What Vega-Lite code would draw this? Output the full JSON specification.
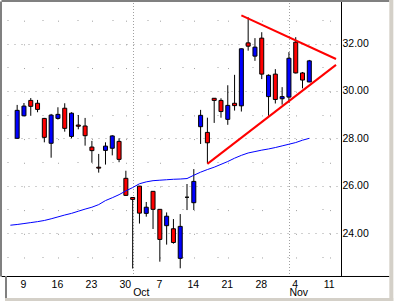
{
  "$schema": "https://vega.github.io/schema/vega-lite/v6.json",
  "width": 340,
  "height": 275,
  "autosize": {"type": "none"},
  "padding": {"left": 1, "top": 1, "right": 59, "bottom": 25},
  "background": "white",
  "config": {
    "view": {"stroke": null},
    "axis": {"labelFont": "Liberation Sans", "labelFontSize": 10.5, "labelColor": "black", "title": null}
  },
  "datasets": {
    "candles": [
      {"i": 0, "o": 28.0, "h": 29.41, "l": 27.98, "c": 29.18},
      {"i": 1, "o": 28.95, "h": 29.49, "l": 28.93, "c": 29.36},
      {"i": 2, "o": 29.6, "h": 29.7, "l": 28.95, "c": 29.35},
      {"i": 3, "o": 29.48, "h": 29.62, "l": 29.1, "c": 29.22},
      {"i": 4, "o": 28.84, "h": 28.86, "l": 27.83, "c": 28.04},
      {"i": 5, "o": 27.79, "h": 29.03, "l": 27.18, "c": 28.98},
      {"i": 6, "o": 28.84, "h": 29.31, "l": 28.79, "c": 29.01},
      {"i": 7, "o": 29.27, "h": 29.48, "l": 28.28, "c": 28.42},
      {"i": 8, "o": 28.08, "h": 29.1, "l": 28.0, "c": 29.06},
      {"i": 9, "o": 28.56, "h": 28.98, "l": 28.38, "c": 28.51},
      {"i": 10, "o": 28.52, "h": 28.86, "l": 27.69, "c": 28.11},
      {"i": 11, "o": 27.63, "h": 27.89, "l": 26.97, "c": 27.48},
      {"i": 12, "o": 26.78, "h": 27.34, "l": 26.55, "c": 26.74},
      {"i": 13, "o": 27.49, "h": 27.83, "l": 26.89, "c": 27.67},
      {"i": 14, "o": 27.58, "h": 28.13, "l": 27.28, "c": 28.1},
      {"i": 15, "o": 27.87, "h": 28.0, "l": 26.99, "c": 27.11},
      {"i": 16, "o": 26.31, "h": 26.63, "l": 25.57, "c": 25.59},
      {"i": 17, "o": 25.5, "h": 25.51, "l": 22.5, "c": 25.42},
      {"i": 18, "o": 25.98, "h": 25.99, "l": 24.4, "c": 24.84},
      {"i": 19, "o": 24.83, "h": 25.31, "l": 24.69, "c": 25.09},
      {"i": 20, "o": 25.76, "h": 25.77, "l": 24.17, "c": 25.0},
      {"i": 21, "o": 25.0, "h": 25.01, "l": 22.79, "c": 23.73},
      {"i": 22, "o": 24.31, "h": 24.87, "l": 23.51, "c": 24.71},
      {"i": 23, "o": 24.18, "h": 24.59, "l": 23.55, "c": 23.6},
      {"i": 24, "o": 22.93, "h": 24.8, "l": 22.51, "c": 24.28},
      {"i": 25, "o": 25.51, "h": 26.07, "l": 24.97, "c": 25.51},
      {"i": 26, "o": 25.28, "h": 26.7, "l": 24.97, "c": 26.18},
      {"i": 27, "o": 28.49, "h": 29.2, "l": 27.76, "c": 28.97},
      {"i": 28, "o": 28.25, "h": 28.87, "l": 26.94, "c": 27.81},
      {"i": 29, "o": 29.69, "h": 29.7, "l": 28.65, "c": 29.6},
      {"i": 30, "o": 29.6, "h": 29.69, "l": 28.87, "c": 29.13},
      {"i": 31, "o": 28.8, "h": 30.24, "l": 28.57, "c": 29.39},
      {"i": 32, "o": 29.48, "h": 30.68, "l": 29.17, "c": 29.38},
      {"i": 33, "o": 29.37, "h": 31.79, "l": 29.13, "c": 31.78},
      {"i": 34, "o": 32.03, "h": 33.11, "l": 31.7, "c": 31.89},
      {"i": 35, "o": 31.47, "h": 32.23, "l": 31.27, "c": 31.85},
      {"i": 36, "o": 32.23, "h": 32.48, "l": 30.5, "c": 30.71},
      {"i": 37, "o": 29.76, "h": 30.7, "l": 28.95, "c": 30.66},
      {"i": 38, "o": 30.71, "h": 30.92, "l": 29.47, "c": 29.64},
      {"i": 39, "o": 29.67, "h": 30.16, "l": 29.42, "c": 29.76},
      {"i": 40, "o": 29.74, "h": 31.64, "l": 29.51, "c": 31.38},
      {"i": 41, "o": 32.06, "h": 32.27, "l": 30.74, "c": 30.76},
      {"i": 42, "o": 30.76, "h": 30.8, "l": 30.11, "c": 30.46},
      {"i": 43, "o": 30.38, "h": 31.31, "l": 30.37, "c": 31.27}
    ],
    "ma": [
      {"i": -1, "v": 24.33}, {"i": 0, "v": 24.36}, {"i": 1, "v": 24.4}, {"i": 2, "v": 24.44},
      {"i": 3, "v": 24.48}, {"i": 4, "v": 24.53}, {"i": 5, "v": 24.6}, {"i": 6, "v": 24.68},
      {"i": 7, "v": 24.76}, {"i": 8, "v": 24.83}, {"i": 9, "v": 24.92}, {"i": 10, "v": 25.01},
      {"i": 11, "v": 25.09}, {"i": 12, "v": 25.2}, {"i": 13, "v": 25.37}, {"i": 14, "v": 25.49},
      {"i": 15, "v": 25.62}, {"i": 16, "v": 25.78}, {"i": 17, "v": 25.92}, {"i": 18, "v": 26.08},
      {"i": 19, "v": 26.16}, {"i": 20, "v": 26.21}, {"i": 21, "v": 26.23}, {"i": 22, "v": 26.25},
      {"i": 23, "v": 26.27}, {"i": 24, "v": 26.28}, {"i": 25, "v": 26.3}, {"i": 26, "v": 26.44},
      {"i": 27, "v": 26.57}, {"i": 28, "v": 26.68}, {"i": 29, "v": 26.78}, {"i": 30, "v": 26.9},
      {"i": 31, "v": 27.02}, {"i": 32, "v": 27.16}, {"i": 33, "v": 27.28}, {"i": 34, "v": 27.38},
      {"i": 35, "v": 27.44}, {"i": 36, "v": 27.5}, {"i": 37, "v": 27.55}, {"i": 38, "v": 27.61},
      {"i": 39, "v": 27.68}, {"i": 40, "v": 27.75}, {"i": 41, "v": 27.82}, {"i": 42, "v": 27.92},
      {"i": 43, "v": 28.0}
    ],
    "tri": [
      {"side": "upper", "i": 33, "v": 33.19},
      {"side": "upper", "i": 46.93, "v": 31.35},
      {"side": "lower", "i": 28, "v": 26.92},
      {"side": "lower", "i": 46.93, "v": 31.1}
    ]
  },
  "resolve": {"axis": {"x": "independent", "y": "independent"}},
  "layer": [
    {
      "data": {"name": "candles"},
      "mark": {"type": "rule", "color": "black", "strokeWidth": 1},
      "encoding": {
        "x": {
          "field": "i", "type": "quantitative",
          "scale": {"domain": [-1.6429, 46.9286], "nice": false, "zero": false},
          "axis": {
            "orient": "bottom",
            "values": [1, 6, 11, 16, 17, 21, 26, 31, 36, 40, 41, 46],
            "labelExpr": "datum.value == 1 ? '9' : datum.value == 6 ? '16' : datum.value == 11 ? '23' : datum.value == 16 ? '30' : datum.value == 17 ? 'Oct' : datum.value == 21 ? '7' : datum.value == 26 ? '14' : datum.value == 31 ? '21' : datum.value == 36 ? '28' : datum.value == 40 ? 'Nov' : datum.value == 41 ? '4' : '11'",
            "ticks": false,
            "domainColor": "black",
            "grid": true,
            "gridColor": "#a0a0a0",
            "gridDash": {"condition": {"test": "datum.value == 17 || datum.value == 40", "value": [1, 2]}, "value": [1, 22.68]},
            "gridDashOffset": 4.5,
            "labelBaseline": "top",
            "labelPadding": {"condition": {"test": "datum.value == 17 || datum.value == 40", "value": 11}, "value": 3},
            "labelAlign": {"condition": {"test": "datum.value == 17 || datum.value == 40", "value": "left"}, "value": "center"},
            "labelOffset": {"condition": {"test": "datum.value == 17 || datum.value == 40", "value": 0}, "value": -1},
            "labelOverlap": false,
            "labelFlush": false,
            "labelBound": false
          }
        },
        "y": {
          "field": "l", "type": "quantitative",
          "scale": {"domain": [22.185, 33.798], "nice": false, "zero": false},
          "axis": {
            "orient": "right",
            "values": [23, 24, 25, 26, 27, 28, 29, 30, 31, 32, 33],
            "labelExpr": "datum.value % 2 === 0 ? format(datum.value, '.2f') : ''",
            "ticks": false,
            "domainColor": "black",
            "grid": true,
            "gridColor": "#a0a0a0",
            "gridDash": {"condition": {"test": "datum.value % 2 === 0", "value": [1, 6]}, "value": [1, 34]},
            "gridDashOffset": 17,
            "labelPadding": 1,
            "labelAlign": "left",
            "labelOverlap": false,
            "labelFlush": false,
            "labelBound": false
          }
        },
        "y2": {"field": "h"}
      }
    },
    {
      "data": {"name": "candles"},
      "mark": {"type": "bar", "width": 4, "stroke": "black", "strokeWidth": 1},
      "encoding": {
        "x": {"field": "i", "type": "quantitative", "scale": {"domain": [-1.6429, 46.9286], "nice": false, "zero": false}, "axis": null},
        "y": {"field": "o", "type": "quantitative", "scale": {"domain": [22.185, 33.798], "nice": false, "zero": false}, "axis": null},
        "y2": {"field": "c"},
        "fill": {"condition": {"test": "datum.c > datum.o", "value": "#0000ff"}, "value": "#ff0000"}
      }
    },
    {
      "data": {"name": "ma"},
      "mark": {"type": "line", "color": "#0000ff", "strokeWidth": 1},
      "encoding": {
        "x": {
          "field": "i", "type": "quantitative",
          "scale": {"domain": [-1.6429, 46.9286], "nice": false, "zero": false},
          "axis": {"orient": "top", "domainColor": "#808080", "domainWidth": 2, "ticks": false, "labels": false, "grid": false, "offset": 0.5}
        },
        "y": {
          "field": "v", "type": "quantitative",
          "scale": {"domain": [22.185, 33.798], "nice": false, "zero": false},
          "axis": {"orient": "left", "domainColor": "#808080", "domainWidth": 2, "ticks": false, "labels": false, "grid": false, "offset": 0.5}
        }
      }
    },
    {
      "data": {"name": "tri"},
      "mark": {"type": "line", "color": "#ff0000", "strokeWidth": 2},
      "encoding": {
        "x": {"field": "i", "type": "quantitative", "scale": {"domain": [-1.6429, 46.9286], "nice": false, "zero": false}, "axis": null},
        "y": {"field": "v", "type": "quantitative", "scale": {"domain": [22.185, 33.798], "nice": false, "zero": false}, "axis": null},
        "detail": {"field": "side", "type": "nominal"}
      }
    },
    {
      "data": {"values": [{}]},
      "mark": {"type": "rule", "color": "black", "strokeWidth": 1},
      "encoding": {
        "x": {"datum": 46.9286, "type": "quantitative", "axis": null},
        "x2": {"datum": 54.79},
        "y": {"datum": 22.164, "type": "quantitative", "axis": null}
      }
    },
    {
      "data": {"values": [{}]},
      "mark": {"type": "rule", "color": "#808080", "strokeWidth": 2},
      "encoding": {
        "x": {"datum": 46.9286, "type": "quantitative", "axis": null},
        "x2": {"datum": 54.79},
        "y": {"datum": 33.798, "type": "quantitative", "axis": null}
      }
    },
    {
      "data": {"values": [{}]},
      "mark": {"type": "rule", "color": "#808080", "strokeWidth": 2},
      "encoding": {
        "x": {"datum": -1.6429, "type": "quantitative", "axis": null},
        "y": {"datum": 22.185, "type": "quantitative", "axis": null},
        "y2": {"datum": 21.214}
      }
    },
    {
      "data": {"values": [{}]},
      "mark": {"type": "rule", "color": "#d4d0c8", "strokeWidth": 3},
      "encoding": {
        "x": {"datum": -1.7857, "type": "quantitative", "axis": null},
        "x2": {"datum": 55.357},
        "y": {"datum": 21.193, "type": "quantitative", "axis": null}
      }
    },
    {
      "data": {"values": [{}]},
      "mark": {"type": "rule", "color": "#d4d0c8", "strokeWidth": 4},
      "encoding": {
        "x": {"datum": 55.071, "type": "quantitative", "axis": null},
        "y": {"datum": 33.84, "type": "quantitative", "axis": null},
        "y2": {"datum": 21.129}
      }
    }
  ]
}
